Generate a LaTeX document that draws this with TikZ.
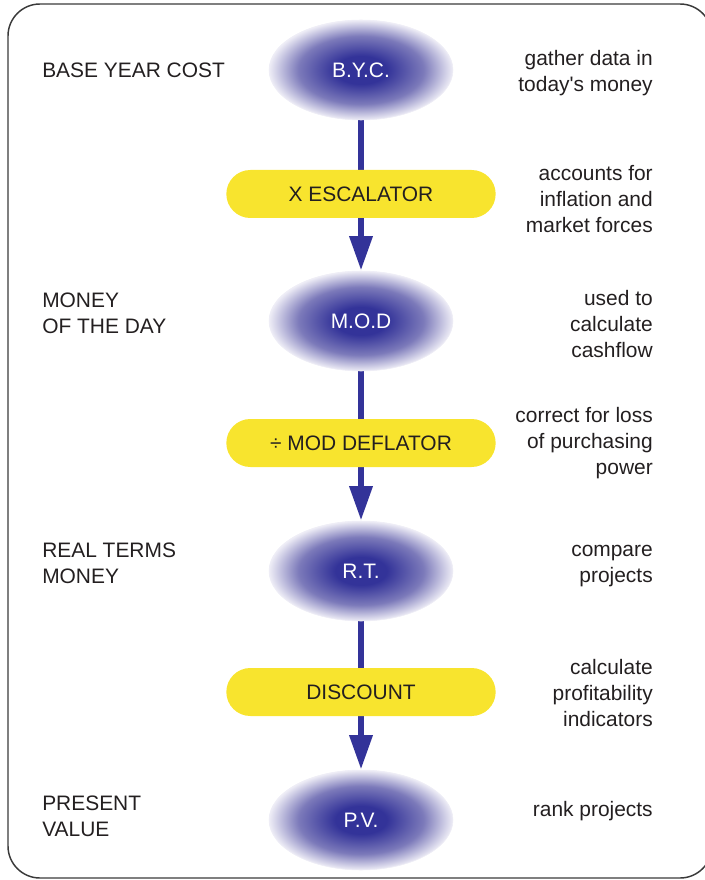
\documentclass[tikz,border=0pt]{standalone}
\usepackage{fontspec}
\setmainfont{Liberation Sans}
\usetikzlibrary{arrows.meta,shapes.geometric,backgrounds}
\definecolor{flowblue}{HTML}{333399}
\definecolor{midlilac}{HTML}{7C7ABA}
\definecolor{palelilac}{HTML}{EEEDF6}
\definecolor{stepyellow}{HTML}{F8E42E}
\definecolor{inktext}{HTML}{231F20}
\definecolor{framegray}{HTML}{3A3A3A}
\pgfdeclareradialshading{ovalshade}{\pgfpoint{0bp}{0bp}}{color(0bp)=(flowblue); color(7bp)=(flowblue); color(17bp)=(midlilac); color(25bp)=(palelilac); color(50bp)=(palelilac)}

\begin{document}
\begin{tikzpicture}[x=0.75pt,y=-0.75pt,
    every node/.style={font=\fontsize{15.7}{19.5}\selectfont, text=inktext, inner sep=0pt},
    oval/.style={ellipse, minimum width=138pt, minimum height=75pt, shade, shading=ovalshade, draw=palelilac, line width=0.4pt, text=white},
    stepbox/.style={rectangle, rounded corners=18pt, fill=stepyellow, minimum width=202pt, minimum height=36pt},
    lefttext/.style={anchor=west, align=left},
    righttext/.style={anchor=east, align=right},
    flow/.style={draw=flowblue, line width=4.9pt, -{Triangle[length=26pt,width=16.5pt]}}]
  \useasboundingbox (0,0) rectangle (704,880);
  \draw[framegray, line width=1.1pt, rounded corners=24pt] (8,4) rectangle (712,878);

  % money stages
  \node[oval] (byc) at (361,70) {B.Y.C.};
  \node[oval] (mod) at (361,321) {M.O.D};
  \node[oval] (rt) at (361,571) {R.T.};
  \node[oval] (pv) at (361,820) {P.V.};

  % conversions
  \node[stepbox] (esc) at (361,194) {X ESCALATOR};
  \node[stepbox] (defl) at (361,443) {÷ MOD DEFLATOR};
  \node[stepbox] (disc) at (361,692) {DISCOUNT};

  \begin{scope}[on background layer]
    \foreach \a/\b in {byc/mod,mod/rt,rt/pv}
      \draw[flow] (\a) -- (\b);
  \end{scope}

  % left column
  \node[lefttext] (nbyc) at (42,70) {BASE YEAR COST};
  \node[lefttext] (nmod) at (42,313) {MONEY\\OF THE DAY};
  \node[lefttext] (nrt) at (42,563) {REAL TERMS\\MONEY};
  \node[lefttext] (npv) at (42,816) {PRESENT\\VALUE};

  % right column
  \node[righttext] (ubyc) at (653,73) {gather data in\\today\textquotesingle s money};
  \node[righttext] (uesc) at (653,199) {accounts for\\inflation and\\market forces};
  \node[righttext] (umod) at (653,324) {used to\\calculate\\cashflow};
  \node[righttext] (udefl) at (653,443) {correct for loss\\of purchasing\\power};
  \node[righttext] (urt) at (653,566) {compare\\projects};
  \node[righttext] (udisc) at (653,693) {calculate\\profitability\\indicators};
  \node[righttext] (upv) at (653,811) {rank projects};
\end{tikzpicture}
\end{document}
